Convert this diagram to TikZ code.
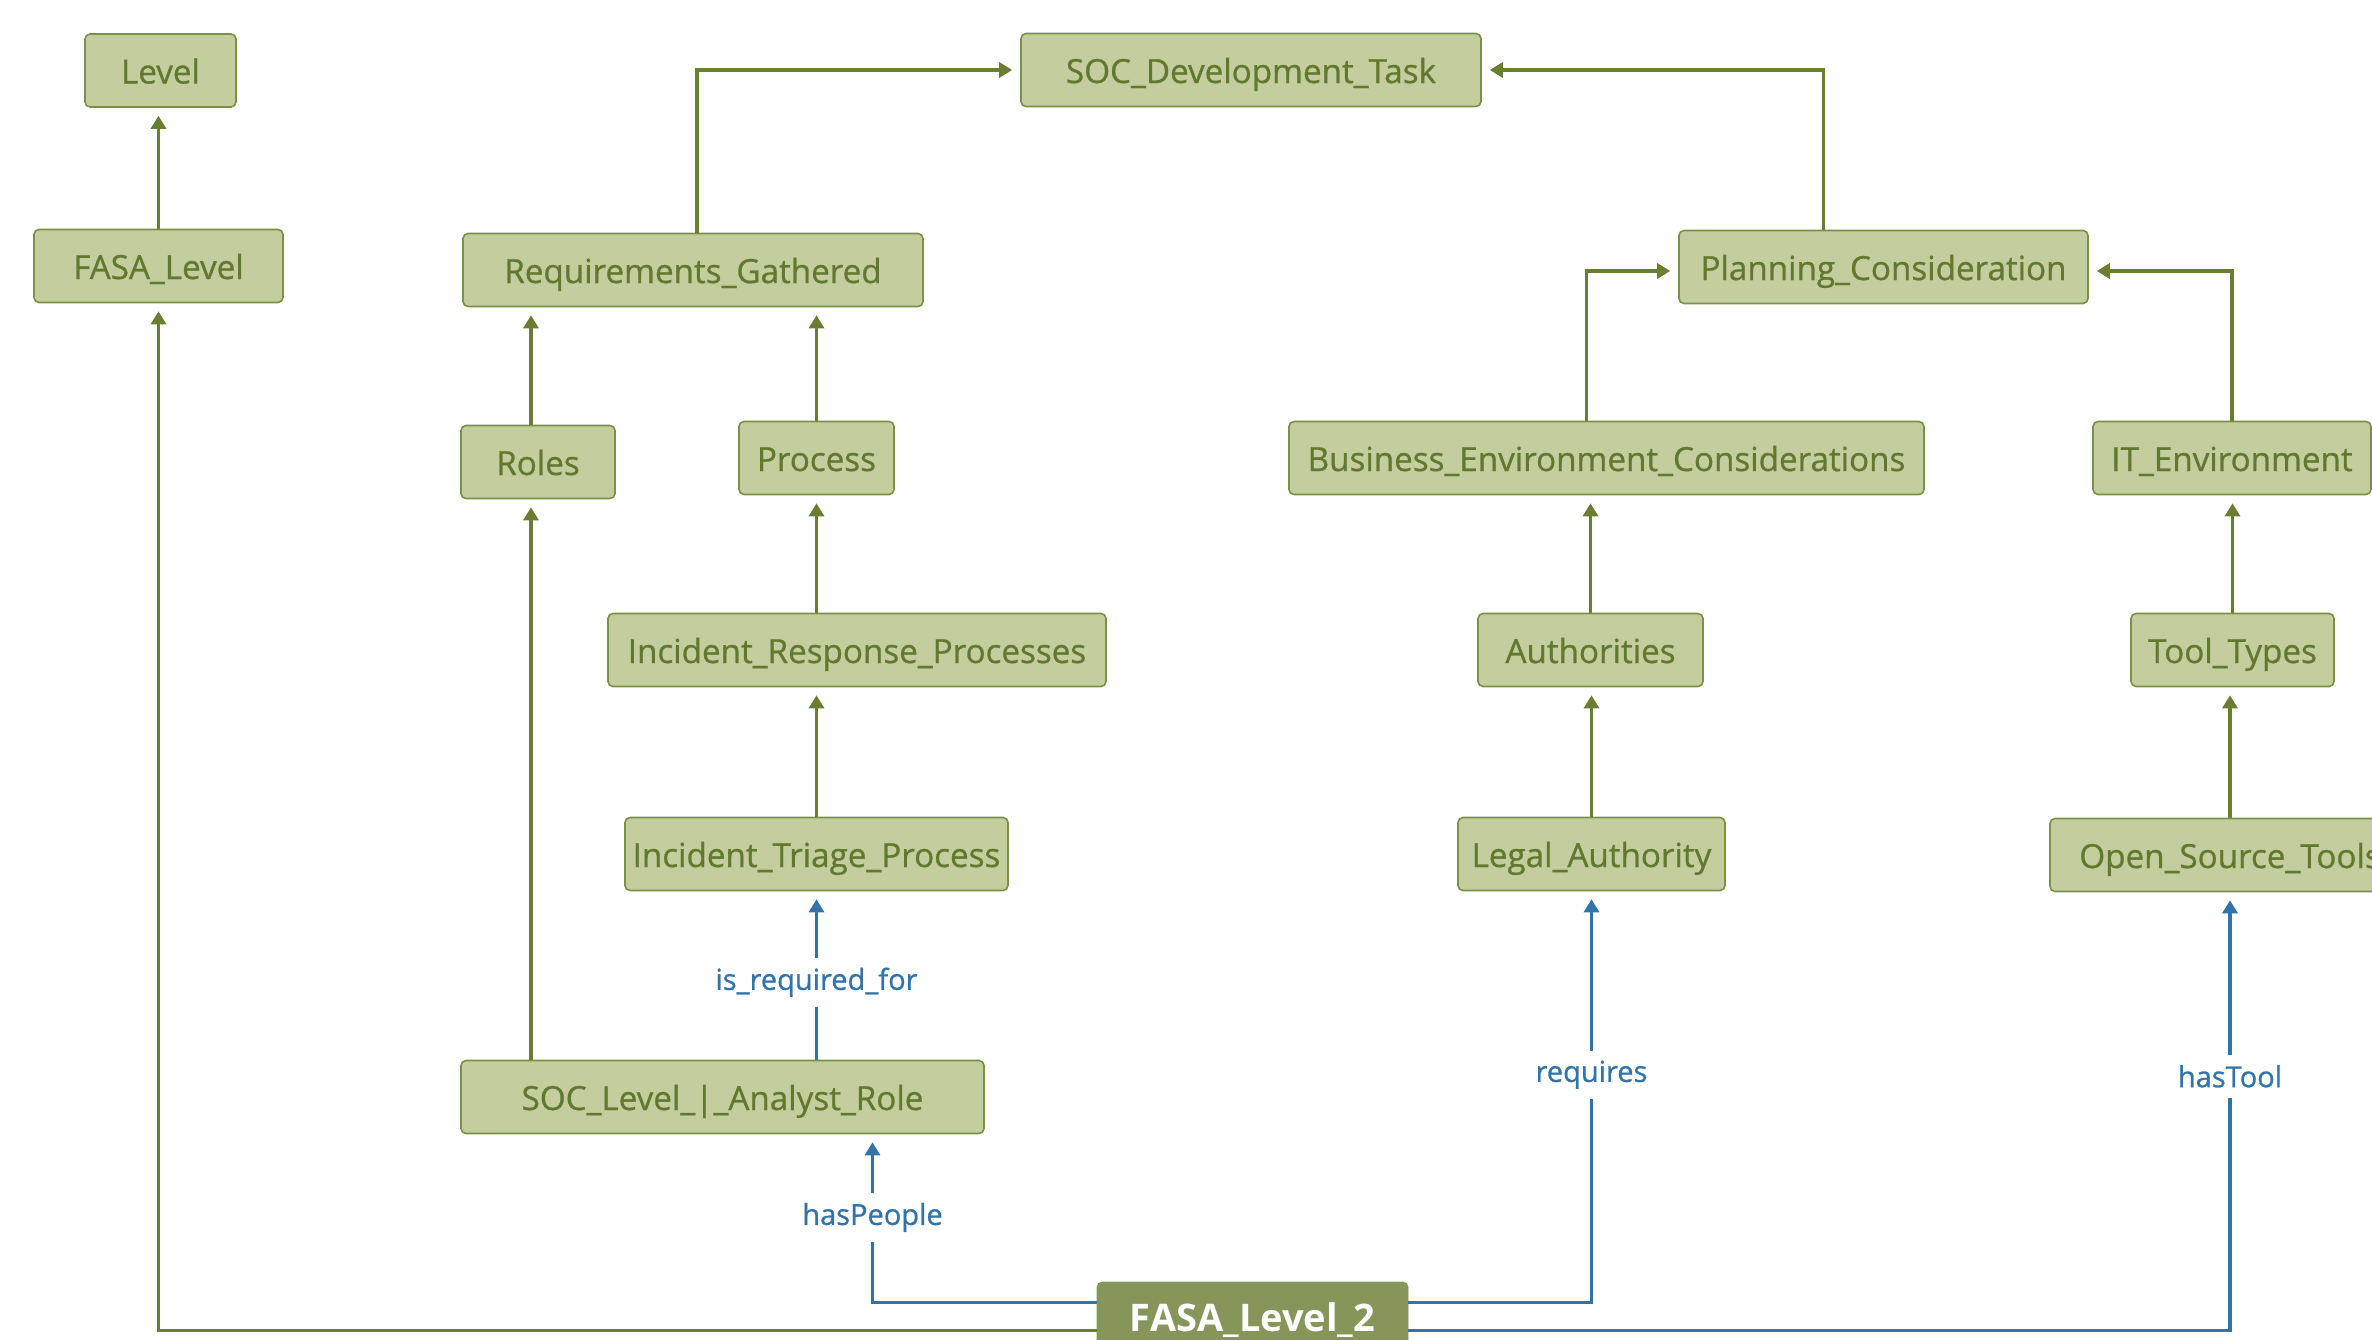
\documentclass[tikz,border=0pt]{standalone}
\usepackage{fontspec}
\setmainfont{Open Sans}
\newfontfamily\semibf{Open Sans}[FakeBold=0.8]
\usetikzlibrary{arrows.meta}
\definecolor{boxfill}{HTML}{C3CD9E}
\definecolor{boxline}{HTML}{7A9148}
\definecolor{boxtext}{HTML}{61792F}
\definecolor{isagreen}{HTML}{6A7E32}
\definecolor{relblue}{HTML}{3274A8}
\definecolor{rootfill}{HTML}{86955A}

\begin{document}
\begin{tikzpicture}[x=0.5pt,y=-0.5pt,
    cls/.style={draw=boxline,fill=boxfill,text=boxtext,rounded corners=2.5pt,line width=0.8pt,
      minimum height=36.5pt,inner sep=0pt,text height=14pt,text depth=1pt,
      font=\semibf\fontsize{16.6}{20}\selectfont},
    root/.style={draw=rootfill,fill=rootfill,text=white,rounded corners=2.5pt,
      minimum height=36.5pt,inner sep=0pt,text height=14pt,text depth=1pt,
      font=\fontsize{19}{22}\selectfont\bfseries},
    isa/.style={draw=isagreen,line width=1.6pt,shorten >=4pt,-{Triangle[width=7.5pt,length=6.5pt]}},
    rel/.style={draw=relblue,line width=1.6pt,shorten >=4pt,-{Triangle[width=7.5pt,length=6.5pt]}},
    lbl/.style={fill=white,text=relblue,inner sep=5pt,font=\semibf\fontsize{14.5}{16}\selectfont}]
\useasboundingbox (0,0) rectangle (2372,1339);

\node[cls,minimum width=75.5pt] (level) at (160.5,70.5) {Level};
\node[cls,minimum width=124.5pt] (fasalevel) at (158.5,266) {FASA\_Level};
\node[cls,minimum width=230pt] (socdev) at (1251,70) {SOC\_Development\_Task};
\node[cls,minimum width=230pt] (reqs) at (693,270) {Requirements\_Gathered};
\node[cls,minimum width=204.5pt] (plan) at (1883.5,267) {Planning\_Consideration};
\node[cls,minimum width=77pt] (roles) at (538,462) {Roles};
\node[cls,minimum width=77.5pt] (process) at (816.5,458) {Process};
\node[cls,minimum width=317.5pt] (busenv) at (1606.5,458) {Business\_Environment\_Considerations};
\node[cls,minimum width=139pt] (itenv) at (2232,458) {IT\_Environment};
\node[cls,minimum width=249pt] (irp) at (857,650) {Incident\_Response\_Processes};
\node[cls,minimum width=112.5pt] (auth) at (1590.5,650) {Authorities};
\node[cls,minimum width=101.5pt] (tooltypes) at (2232.5,650) {Tool\_Types};
\node[cls,minimum width=191.5pt] (triage) at (816.5,854) {Incident\_Triage\_Process};
\node[cls,minimum width=133.5pt] (legal) at (1591.5,854) {Legal\_Authority};
\node[cls,minimum width=180pt] (ostools) at (2230,855) {Open\_Source\_Tools};
\node[cls,minimum width=261.5pt] (analyst) at (722.5,1097) {SOC\_Level\_|\_Analyst\_Role};
\node[root,minimum width=155.5pt] (fasa2) at (1252.5,1318.5) {FASA\_Level\_2};

\draw[isa] (fasalevel.north) -- (fasalevel.north |- level.south);
\draw[isa] ([xshift=2pt]reqs.north) |- (socdev.west);
\draw[isa] ([xshift=-30pt]plan.north) |- (socdev.east);
\draw[isa] ([xshift=-10pt]busenv.north) |- ([yshift=-2pt]plan.west);
\draw[isa] (itenv.north) |- ([yshift=-2pt]plan.east);
\draw[isa] ([xshift=-3.5pt]roles.north) -- ([xshift=-3.5pt]roles.north |- reqs.south);
\draw[isa] (process.north) -- (process.north |- reqs.south);
\draw[isa] (irp.north -| process) -- (process.south);
\draw[isa] (triage.north) -- (triage.north |- irp.south);
\draw[isa] (auth.north) -- (auth.north |- busenv.south);
\draw[isa] (legal.north) -- (legal.north |- auth.south);
\draw[isa] (tooltypes.north) -- (tooltypes.north |- itenv.south);
\draw[isa] (ostools.north) -- (ostools.north |- tooltypes.south);
\draw[isa] ([xshift=-3.5pt]roles.south |- analyst.north) -- ([xshift=-3.5pt]roles.south);
\draw[isa] ([yshift=-6pt]fasa2.west) -| (fasalevel.south);

\draw[rel] (triage.south |- analyst.north) -- node[lbl,pos=0.46] {is\_required\_for} (triage.south);
\draw[rel] ([yshift=8pt]fasa2.west) -| node[lbl,pos=0.753] {hasPeople} ([xshift=75pt]analyst.south);
\draw[rel] ([yshift=8pt]fasa2.east) -| node[lbl,pos=0.777] {requires} (legal.south);
\draw[rel] ([yshift=-6pt]fasa2.east) -| node[lbl,pos=0.79] {hasTool} (ostools.south);
\end{tikzpicture}
\end{document}
